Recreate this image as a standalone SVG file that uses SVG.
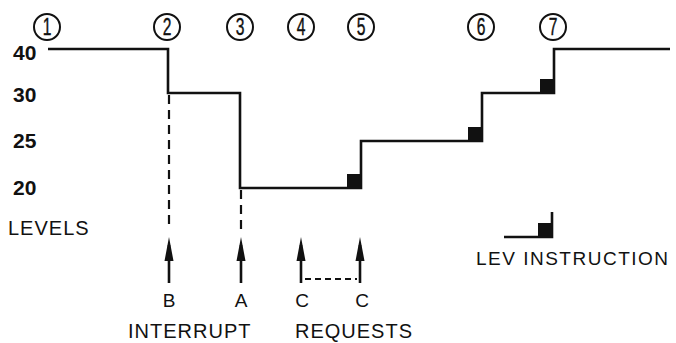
<svg xmlns="http://www.w3.org/2000/svg" width="676" height="343" viewBox="0 0 676 343">
  <style>
    text { font-family: "Liberation Sans", Arial, sans-serif; fill: #111; }
    .lvl { font-size: 21px; font-weight: bold; }
    .lbl { font-size: 19px; text-anchor: middle; }
    .cap { font-size: 20px; letter-spacing: 1px; }
    .num { font-size: 23px; text-anchor: middle; stroke: #111; stroke-width: 0.4; }
    .ring { fill: none; stroke: #111; stroke-width: 2; }
    .step { fill: none; stroke: #111; stroke-width: 2.6; }
    .dash { fill: none; stroke: #111; stroke-width: 2.2; stroke-dasharray: 9 6; }
    .dash-s { fill: none; stroke: #111; stroke-width: 2.2; stroke-dasharray: 6 4; }
    .arrow { fill: none; stroke: #111; stroke-width: 2.6; marker-end: url(#head); }
    .blk { fill: #111; }
  </style>
  <defs>
    <marker id="head" viewBox="0 0 24 10" refX="16" refY="5" markerWidth="24" markerHeight="10" markerUnits="userSpaceOnUse" orient="auto">
      <path d="M0,0.5 L24,5 L0,9.5 Z" fill="#111"/>
    </marker>
  </defs>

  <!-- circled event numbers -->
  <g id="event-1"><circle class="ring" cx="47" cy="27" r="13"/><text class="num" transform="translate(47,35) scale(0.68,1)">1</text></g>
  <g id="event-2"><circle class="ring" cx="167" cy="27" r="13"/><text class="num" transform="translate(167,35) scale(0.68,1)">2</text></g>
  <g id="event-3"><circle class="ring" cx="240" cy="27" r="13"/><text class="num" transform="translate(240,35) scale(0.68,1)">3</text></g>
  <g id="event-4"><circle class="ring" cx="301" cy="27" r="13"/><text class="num" transform="translate(301,35) scale(0.68,1)">4</text></g>
  <g id="event-5"><circle class="ring" cx="361" cy="27" r="13"/><text class="num" transform="translate(361,35) scale(0.68,1)">5</text></g>
  <g id="event-6"><circle class="ring" cx="481" cy="27" r="13"/><text class="num" transform="translate(481,35) scale(0.68,1)">6</text></g>
  <g id="event-7"><circle class="ring" cx="553" cy="27" r="13"/><text class="num" transform="translate(553,35) scale(0.68,1)">7</text></g>

  <!-- level axis -->
  <g id="axis">
    <text class="lvl" x="13" y="60">40</text>
    <text class="lvl" x="13" y="102">30</text>
    <text class="lvl" x="13" y="148">25</text>
    <text class="lvl" x="13" y="195">20</text>
    <text class="cap" x="8" y="235">LEVELS</text>
  </g>

  <!-- priority level trace -->
  <g id="level-trace">
    <path class="step" d="M48,49 H168 V93 H240 V188 H361 V141 H482 V93 H554 V49 H670"/>
    <rect class="blk" x="347" y="174" width="14" height="14"/>
    <rect class="blk" x="468" y="127" width="14" height="14"/>
    <rect class="blk" x="540" y="79" width="14" height="14"/>
  </g>

  <!-- request connectors -->
  <g id="connectors">
    <line class="dash" x1="169" y1="95" x2="169" y2="229"/>
    <line class="dash" x1="241" y1="190" x2="241" y2="229"/>
    <line class="arrow" x1="169" y1="283" x2="169" y2="245"/>
    <line class="arrow" x1="241" y1="283" x2="241" y2="245"/>
    <line class="arrow" x1="301" y1="283" x2="301" y2="245"/>
    <line class="arrow" x1="360" y1="283" x2="360" y2="245"/>
    <line class="dash-s" x1="305" y1="279" x2="357" y2="279"/>
  </g>

  <!-- request labels -->
  <g id="requests">
    <text class="lbl" x="169" y="307">B</text>
    <text class="lbl" x="241" y="307">A</text>
    <text class="lbl" x="302" y="307">C</text>
    <text class="lbl" x="362" y="307">C</text>
    <text class="cap" x="128" y="338">INTERRUPT</text>
    <text class="cap" x="295" y="338">REQUESTS</text>
  </g>

  <!-- legend -->
  <g id="legend">
    <path class="step" d="M504,237 H552 V212"/>
    <rect class="blk" x="538" y="223" width="14" height="14"/>
    <text class="cap" x="476" y="265" style="font-size:19px;letter-spacing:1.5px">LEV INSTRUCTION</text>
  </g>
</svg>
